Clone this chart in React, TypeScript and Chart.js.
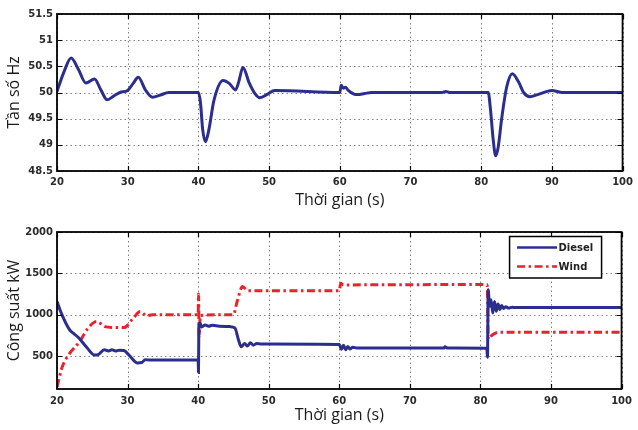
import React, { useEffect, useRef } from "react";
import { Chart, registerables } from "chart.js";

Chart.register(...registerables);

// ---------- Data ----------
const xTicks = [20, 30, 40, 50, 60, 70, 80, 90, 100];
const freqTicks = [48.5, 49, 49.5, 50, 50.5, 51, 51.5];
const powerTicks = [500, 1000, 1500, 2000];

const freqTime = [20, 21, 22, 23, 24.1, 25.3, 26.2, 27.1, 28, 28.9, 30, 30.8, 31.5, 32.5, 33.5, 34.6, 35.8, 40, 40.3, 40.6, 41, 41.5, 42.2, 43.5, 44.4, 45.25, 45.7, 46.3, 47.2, 48, 48.7, 49.8, 50.8, 60, 60.2, 60.5, 60.8, 61.2, 62, 62.5, 63.5, 64.5, 74.5, 75, 75.5, 81, 81.3, 81.7, 82.05, 82.4, 82.9, 83.6, 84.4, 85.3, 86, 86.9, 88, 90, 91.5, 100];
const freqVal = [50.02, 50.4, 50.66, 50.45, 50.18, 50.26, 50.05, 49.86, 49.93, 50.0, 50.04, 50.18, 50.29, 50.05, 49.91, 49.95, 50.0, 50.0, 49.8, 49.3, 49.06, 49.3, 49.85, 50.23, 50.17, 50.05, 50.2, 50.48, 50.18, 49.98, 49.9, 49.97, 50.04, 50.0, 50.14, 50.08, 50.1, 50.04, 49.97, 49.96, 49.98, 50.0, 50.0, 50.02, 50.0, 50.0, 49.7, 49.1, 48.79, 48.95, 49.5, 50.1, 50.36, 50.2, 50.0, 49.92, 49.96, 50.04, 50.0, 50.0];

const dieselTime = [20, 20.65, 21.8, 22.3, 23, 24.2, 25.3, 25.8, 26.7, 27.3, 27.8, 28.3, 28.8, 29.5, 30.3, 31.4, 32, 32.5, 33.2, 40, 40.05, 40.1, 40.25, 40.5, 41, 41.5, 42, 43, 44.5, 45.2, 45.7, 46.1, 46.6, 47, 47.4, 47.8, 48.3, 49, 60, 60.3, 60.6, 60.9, 61.2, 61.5, 61.9, 62.5, 74.8, 75, 75.3, 80.9, 81.0, 81.1, 81.3, 81.5, 81.75, 82.0, 82.25, 82.5, 82.75, 83.0, 83.3, 83.6, 84, 84.5, 85, 100];
const dieselVal = [1160, 1010, 815, 775, 726, 605, 512, 515, 575, 560, 575, 560, 570, 565, 500, 415, 420, 455, 450, 450, 300, 860, 900, 850, 875, 860, 870, 860, 855, 840, 700, 612, 650, 620, 660, 630, 650, 645, 640, 580, 630, 575, 615, 585, 605, 595, 595, 610, 595, 593, 484, 1300, 1100, 1180, 1020, 1160, 1040, 1130, 1060, 1110, 1075, 1095, 1080, 1090, 1085, 1085];

const windTime = [20, 20.75, 21.8, 23.2, 24.4, 25.6, 26.8, 28, 29.5, 30.8, 31.8, 32.7, 33.5, 40, 40.05, 40.15, 40.3, 45, 45.5, 46.3, 47, 60, 60.2, 60.6, 80.9, 81.0, 81.1, 81.5, 82, 82.5, 100];
const windVal = [127, 370, 532, 673, 835, 916, 855, 845, 843, 957, 1037, 985, 1000, 1000, 1250, 740, 990, 1000, 1150, 1340, 1290, 1290, 1380, 1360, 1365, 1300, 700, 740, 770, 787, 787];

const seriesLabels = ["Diesel", "Wind"];
const freqTitle = "Tần số Hz";
const powerTitle = "Công suất kW";
const timeTitle = "Thời gian (s)";

// ---------- Styles ----------
const BLUE = "#2b2e8e";
const RED = "#e8232b";
const TICK_FONT = { family: "'DejaVu Sans'", size: 10, weight: "bold" as const };
const TITLE_FONT = { family: "'Open Sans'", size: 16 };

const toXY = (xs: number[], ys: number[]) => xs.map((x, i) => ({ x, y: ys[i] }));

const gridPlugin = {
  id: "dotGrid",
  beforeDatasetsDraw(chart: any) {
    const { ctx, chartArea: a } = chart;
    const xs = chart.scales.x;
    const ys = chart.scales.y;
    ctx.save();
    ctx.strokeStyle = "rgba(90,90,90,0.75)";
    ctx.lineWidth = 1;
    ctx.setLineDash([1.5, 3]);
    ctx.beginPath();
    xs.ticks.forEach((t: any) => {
      const px = Math.round(xs.getPixelForValue(t.value)) + 0.5;
      ctx.moveTo(px, a.top);
      ctx.lineTo(px, a.bottom);
    });
    ys.ticks.forEach((t: any) => {
      const py = Math.round(ys.getPixelForValue(t.value)) + 0.5;
      ctx.moveTo(a.left, py);
      ctx.lineTo(a.right, py);
    });
    ctx.stroke();
    ctx.restore();
  },
};

const framePlugin = {
  id: "frame",
  afterDraw(chart: any) {
    const { ctx, chartArea: a } = chart;
    const xs = chart.scales.x;
    const ys = chart.scales.y;
    ctx.save();
    ctx.strokeStyle = "#000";
    ctx.lineWidth = 1.2;
    const L = 5;
    ctx.beginPath();
    xs.ticks.forEach((t: any) => {
      const px = Math.round(xs.getPixelForValue(t.value)) + 0.5;
      ctx.moveTo(px, a.bottom);
      ctx.lineTo(px, a.bottom - L);
      ctx.moveTo(px, a.top);
      ctx.lineTo(px, a.top + L);
    });
    ys.ticks.forEach((t: any) => {
      const py = Math.round(ys.getPixelForValue(t.value)) + 0.5;
      ctx.moveTo(a.left, py);
      ctx.lineTo(a.left + L, py);
      ctx.moveTo(a.right, py);
      ctx.lineTo(a.right - L, py);
    });
    ctx.stroke();
    ctx.lineWidth = 1.8;
    ctx.strokeRect(a.left, a.top, a.right - a.left, a.bottom - a.top);
    ctx.restore();
  },
};

const legendBoxPlugin = {
  id: "legendBox",
  afterDraw(chart: any) {
    if (!chart.options.plugins.legendBox?.show) return;
    const { ctx, chartArea: a } = chart;
    const bx = a.right - 112;
    const by = a.top + 4.5;
    const bw = 92;
    const bh = 41.5;
    ctx.save();
    ctx.fillStyle = "#fff";
    ctx.fillRect(bx, by, bw, bh);
    ctx.strokeStyle = "#000";
    ctx.lineWidth = 1.5;
    ctx.strokeRect(bx, by, bw, bh);
    chart.data.datasets.forEach((ds: any, i: number) => {
      const y = by + 11 + i * 19;
      ctx.strokeStyle = ds.borderColor;
      ctx.lineWidth = 2.5;
      ctx.setLineDash(ds.borderDash || []);
      ctx.beginPath();
      ctx.moveTo(bx + 7.5, y);
      ctx.lineTo(bx + 47.5, y);
      ctx.stroke();
      ctx.setLineDash([]);
      ctx.fillStyle = "#222";
      ctx.font = "bold 10px 'DejaVu Sans'";
      ctx.textBaseline = "middle";
      ctx.fillText(ds.label, bx + 49, y + 0.5);
    });
    ctx.restore();
  },
};

function makeOptions(opts: {
  yMin: number;
  yMax: number;
  yTicks: number[];
  yTitle: string;
  padTop: number;
  xHeight: number;
  xTickPad: number;
  legend: boolean;
}) {
  return {
    responsive: false,
    animation: false as const,
    layout: { padding: { top: opts.padTop, right: 9, left: 0, bottom: 0 } },
    plugins: {
      legend: { display: false },
      tooltip: { enabled: false },
      legendBox: { show: opts.legend },
    },
    elements: { point: { radius: 0 } },
    scales: {
      x: {
        type: "linear" as const,
        min: 20,
        max: 100,
        afterBuildTicks: (s: any) => {
          s.ticks = xTicks.map((v) => ({ value: v }));
        },
        afterFit: (s: any) => {
          s.height = opts.xHeight;
        },
        ticks: {
          font: TICK_FONT,
          color: "#2a2a2a",
          padding: opts.xTickPad,
          maxRotation: 0,
          autoSkip: false,
          callback: (v: any) => String(v),
        },
        grid: { display: false, drawTicks: false },
        border: { display: false },
        title: { display: true, text: timeTitle, font: TITLE_FONT, color: "#1a1a1a", padding: { top: 0, bottom: 5 } },
      },
      y: {
        type: "linear" as const,
        min: opts.yMin,
        max: opts.yMax,
        afterBuildTicks: (s: any) => {
          s.ticks = opts.yTicks.map((v) => ({ value: v }));
        },
        afterFit: (s: any) => {
          s.width = 57;
        },
        ticks: { font: TICK_FONT, color: "#2a2a2a", padding: 4, callback: (v: any) => String(v) },
        grid: { display: false, drawTicks: false },
        border: { display: false },
        title: { display: true, text: opts.yTitle, font: TITLE_FONT, color: "#1a1a1a", padding: { top: 5, bottom: 0 } },
      },
    },
  };
}

export default function App() {
  const topRef = useRef<HTMLCanvasElement>(null);
  const botRef = useRef<HTMLCanvasElement>(null);

  useEffect(() => {
    const top = new Chart(topRef.current as HTMLCanvasElement, {
      type: "line",
      data: {
        datasets: [
          {
            label: "f",
            data: toXY(freqTime, freqVal),
            borderColor: BLUE,
            borderWidth: 3,
            cubicInterpolationMode: "monotone",
            fill: false,
          },
        ],
      },
      options: makeOptions({
        yMin: 48.5,
        yMax: 51.5,
        yTicks: freqTicks,
        yTitle: freqTitle,
        padTop: 14,
        xHeight: 44,
        xTickPad: 5,
        legend: false,
      }) as any,
      plugins: [gridPlugin, framePlugin, legendBoxPlugin],
    });

    const bot = new Chart(botRef.current as HTMLCanvasElement, {
      type: "line",
      data: {
        datasets: [
          {
            label: seriesLabels[0],
            data: toXY(dieselTime, dieselVal),
            borderColor: BLUE,
            borderWidth: 3,
            cubicInterpolationMode: "monotone",
            fill: false,
          },
          {
            label: seriesLabels[1],
            data: toXY(windTime, windVal),
            borderColor: RED,
            borderWidth: 3,
            borderDash: [8, 3.5, 2.5, 3.5],
            cubicInterpolationMode: "monotone",
            fill: false,
          },
        ],
      },
      options: makeOptions({
        yMin: 100,
        yMax: 2000,
        yTicks: powerTicks,
        yTitle: powerTitle,
        padTop: 17,
        xHeight: 41,
        xTickPad: 6,
        legend: true,
      }) as any,
      plugins: [gridPlugin, framePlugin, legendBoxPlugin],
    });

    return () => {
      top.destroy();
      bot.destroy();
    };
  }, []);

  return (
    <div style={{ position: "absolute", left: 0, top: 0, width: 638, height: 430, background: "#fff" }}>
      <div style={{ position: "absolute", left: 0, top: 0, width: 638, height: 215 }}>
        <canvas ref={topRef} width={638} height={215} style={{ display: "block" }} />
      </div>
      <div style={{ position: "absolute", left: 0, top: 215, width: 638, height: 215 }}>
        <canvas ref={botRef} width={638} height={215} style={{ display: "block" }} />
      </div>
    </div>
  );
}
